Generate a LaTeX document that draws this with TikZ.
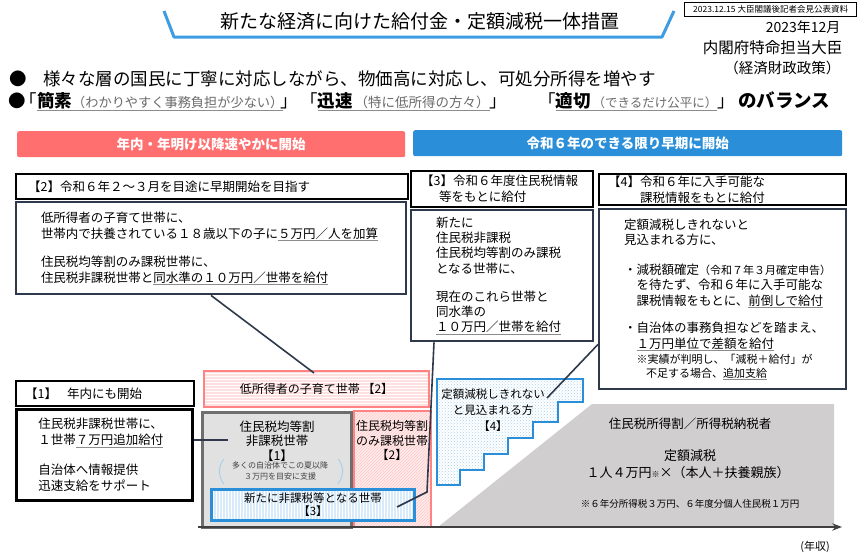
\documentclass[tikz,border=0pt]{standalone}
\usepackage{fontspec}
\setmainfont{Noto Sans CJK JP}
\usetikzlibrary{arrows.meta, positioning, patterns, calc}

\definecolor{banred}{HTML}{FF6F70}
\definecolor{banblue}{HTML}{2A8FD8}
\definecolor{navy}{HTML}{2E3A4B}
\definecolor{pinkln}{HTML}{FF8383}
\definecolor{pinkbg}{HTML}{FFE0E0}
\definecolor{greybg}{HTML}{E1E1E1}
\definecolor{greyln}{HTML}{6E6E6E}
\definecolor{bluebg}{HTML}{D8EBFA}
\definecolor{areagrey}{HTML}{D0CECE}
\definecolor{titleblue}{HTML}{3D9CE2}
\definecolor{paren}{HTML}{6A6A6A}

\newcommand{\fsz}[2]{\fontsize{#1}{#2}\selectfont}
\newcommand{\ulg}[1]{{\color{black!45}$\underline{\hbox{\color{black}#1}}$}}

\begin{document}
\begin{tikzpicture}[x=1pt, y=-1pt, >=Stealth,
    hdr/.style={draw=black, line width=2.4pt, fill=white, anchor=north west,
                align=left, inner ysep=0pt, font=\fsz{12.5}{16}},
    body/.style={draw=navy, line width=2pt, fill=white, anchor=north west,
                 align=left, inner ysep=0pt, font=\fsz{12.5}{16}},
    banner/.style={rounded corners=2pt, minimum height=26pt, anchor=north west,
                   text=white, font=\fsz{13.5}{16}\bfseries},
    keyw/.style={anchor=base west, inner sep=0pt, font=\fsz{17.5}{20}},
    link/.style={draw=navy, line width=1.6pt}]
  \useasboundingbox (0,0) rectangle (860,557);
  \fill[white] (0,0) rectangle (860,557);

  \node[font=\fsz{19}{22}] (title) at (420,21) {新たな経済に向けた給付金・定額減税一体措置};
  \draw[titleblue, line width=3pt, line join=round]
    (164,11) -- (174,37) -- (662,37) -- (674,11);

  \node[draw, line width=0.8pt, minimum width=172pt, minimum height=14pt, inner sep=0pt,
        anchor=north east, font=\fsz{8.5}{10}] (memo) at (857,2)
    {2023.12.15 大臣閣議後記者会見公表資料};
  \node[anchor=east, font=\fsz{14}{16}] (date) at (844,27) {2023年12月};
  \node[anchor=east, font=\fsz{15.5}{18}] (minister) at (846,48) {内閣府特命担当大臣};
  \node[anchor=east, font=\fsz{14.5}{17}] (office) at (844,68) {（経済財政政策）};

  \node[anchor=west, font=\fsz{17.5}{20}] (bul1) at (6,79)
    {●\hspace{16pt}様々な層の国民に丁寧に対応しながら、物価高に対応し、可処分所得を増やす};
  \node[keyw] (bul2) at (8,107.5)
    {●\kern-6pt「\ulg{{\bfseries 簡素}{\color{paren}\fsz{13.2}{15}（わかりやすく事務負担が少ない）}}\kern-3pt」};
  \node[keyw] (quick) at (300,107.5)
    {「\ulg{{\bfseries 迅速}{\color{paren}\fsz{13.5}{15}\hspace{2pt}（特に低所得の方々）}}」};
  \node[keyw] (fair) at (538,107.5)
    {「\ulg{{\bfseries 適切}{\color{paren}\fsz{12.5}{15}\hspace{2pt}（できるだけ公平に）}}」};
  \node[keyw, font=\fsz{18.5}{20}\bfseries] (balance) at (738,107.5) {のバランス};

  \node[banner, fill=banred, minimum width=388pt] (banR) at (17,131) {年内・年明け以降速やかに開始};
  \node[banner, fill=banblue, minimum width=429pt] (banB) at (413,130) {令和６年のできる限り早期に開始};

  \node[hdr, minimum width=392pt, minimum height=25pt, inner xsep=12pt, text width=368pt] (h2) at (15,173)
    {【2】令和６年２～３月を目途に早期開始を目指す};
  \node[body, below right=1pt and 0pt of h2.south west, minimum height=92pt,
        inner xsep=25pt, text width=340pt] (b2)
    {低所得者の子育て世帯に、\\世帯内で扶養されている１８歳以下の子に\ulg{５万円／人を加算}\\[12pt]住民税均等割のみ課税世帯に、\\住民税非課税世帯と\ulg{同水準の１０万円／世帯を給付}};

  \node[hdr, minimum width=182pt, minimum height=36pt, inner xsep=10pt, text width=162pt] (h3) at (410,170)
    {【3】令和６年度住民税情報\\\hspace*{18pt}等をもとに給付};
  \node[body, below right=1pt and 0pt of h3.south west, minimum height=131pt,
        inner xsep=25pt, text width=132pt, font=\fsz{12.5}{15.3}] (b3)
    {新たに\\住民税非課税\\住民税均等割のみ課税\\となる世帯に、\\[13pt]現在のこれら世帯と\\同水準の\\\ulg{１０万円／世帯を給付}};

  \node[hdr, minimum width=247pt, minimum height=31pt, inner xsep=9pt, text width=229pt] (h4) at (598,173)
    {【4】令和６年に入手可能な\\\hspace*{32pt}課税情報をもとに給付};
  \node[body, below right=2pt and 0pt of h4.south west, minimum height=180pt,
        inner xsep=25pt, text width=197pt, font=\fsz{12.5}{15.5}] (b4)
    {定額減税しきれないと\\見込まれる方に、\\[14pt]%
     ・減税額確定{\fsz{11}{15}（令和７年３月確定申告）}\\%
     \hspace*{12.5pt}を待たず、令和６年に入手可能な\\%
     \hspace*{12.5pt}課税情報をもとに、\ulg{前倒しで給付}\\[12pt]%
     ・自治体の事務負担などを踏まえ、\\%
     \hspace*{12.5pt}\ulg{１万円単位で差額を給付}\\%
     \hspace*{12.5pt}{\fsz{11}{13}※実績が判明し、「減税＋給付」が}\\[-2pt]%
     \hspace*{22pt}{\fsz{11}{13}不足する場合、\ulg{追加支給}}};

  \node[hdr, minimum width=178pt, minimum height=25pt, inner xsep=9pt, text width=160pt] (h1) at (15,380)
    {【1】\hspace{10pt}年内にも開始};
  \node[body, draw=black, line width=2.6pt, below right=1pt and 0pt of h1.south west,
        minimum height=91pt, inner xsep=22pt, text width=132pt] (b1)
    {住民税非課税世帯に、\\１世帯\ulg{７万円追加給付}\\[14pt]自治体へ情報提供\\迅速支給をサポート};

  \fill[areagrey] (438,527) -- (592,404) -- (834,404) -- (834,527) -- cycle;
  \node[font=\fsz{12.5}{15}] (payer) at (690,424) {住民税所得割／所得税納税者};
  \node[font=\fsz{13}{16}] (flat) at (690,456) {定額減税};
  \node[font=\fsz{13}{16}] (perhead) at (688,473) {１人４万円{\fsz{8}{10}※}×（本人＋扶養親族）};
  \node[font=\fsz{9.5}{11}] (note) at (690,504) {※６年分所得税３万円、６年度分個人住民税１万円};

  \node[draw=pinkln, line width=2pt, pattern=horizontal lines, pattern color=white,
        preaction={fill=pinkbg}, minimum width=225pt, minimum height=36pt,
        anchor=north west, font=\fsz{12}{15}] (kids) at (203,370) {低所得者の子育て世帯 【2】};
  \node[draw=greyln, fill=greybg, line width=3pt, minimum width=149pt, minimum height=115pt,
        anchor=north west] (g1) at (201,411) {};
  \node[font=\fsz{12.5}{14.5}, align=center, anchor=north] (g1txt) at (277,417)
    {住民税均等割\\非課税世帯\\【1】};
  \node[font=\fsz{8}{11}, align=center, text=black!75] (g1note) at (280,471)
    {多くの自治体でこの夏以降\\３万円を目安に支援};
  \draw[banblue!45, line width=0.8pt] (224,459) .. controls (218,465) and (218,477) .. (224,484);
  \draw[banblue!45, line width=0.8pt] (338,459) .. controls (344,465) and (344,477) .. (338,484);
  \node[draw=pinkln, line width=2pt, pattern=north east lines, pattern color=pinkln!45,
        preaction={fill=pinkbg!60}, minimum width=77pt, minimum height=116pt,
        anchor=north west] (p2) at (353,410) {};
  \node[font=\fsz{12}{14.5}, align=center, anchor=north] (p2txt) at (392,417)
    {住民税均等割\\のみ課税世帯\\【2】};
  \node[draw=banblue, line width=3pt, pattern=vertical lines, pattern color=white,
        preaction={fill=bluebg}, minimum width=203pt, minimum height=31pt,
        anchor=north west, align=center, font=\fsz{11.5}{13}] (n3) at (210,488)
    {新たに非課税等となる世帯\\【3】};

  \draw[banblue, line width=2.5pt, pattern=crosshatch dots, pattern color=banblue!40,
        preaction={fill=white}]
    (437,379) -- (583,379) -- (583,402) -- (558,402) -- (558,422) -- (533,422)
    -- (533,438) -- (508,438) -- (508,454) -- (484,454) -- (484,470) -- (460,470)
    -- (460,485) -- (437,485) -- cycle;
  \node[font=\fsz{11.5}{16}, align=center] (stair) at (493,410)
    {定額減税しきれない\\と見込まれる方\\【4】};

  \coordinate (ax0) at (198,527);
  \coordinate (ax1) at (842,527);
  \draw[->, black!75, line width=1.5pt] (ax0) -- (ax1);
  \node[font=\fsz{11}{13}] (income) at (815,547) {(年収)};

  \coordinate (c1) at (228,440);
  \coordinate (c2) at (314,373);
  \coordinate (c3a) at (427,492);
  \coordinate (c3b) at (397,507);
  \coordinate (c4) at (547,398);
  \draw[link] (b1.east |- c1) -- (c1);
  \draw[link] (b2.south) -- (c2);
  \draw[link] ($(b3.south west)+(24,0)$) -- (c3a) -- (c3b);
  \draw[link] ($(b4.south west)+(0,-46)$) -- (c4);
\end{tikzpicture}
\end{document}
